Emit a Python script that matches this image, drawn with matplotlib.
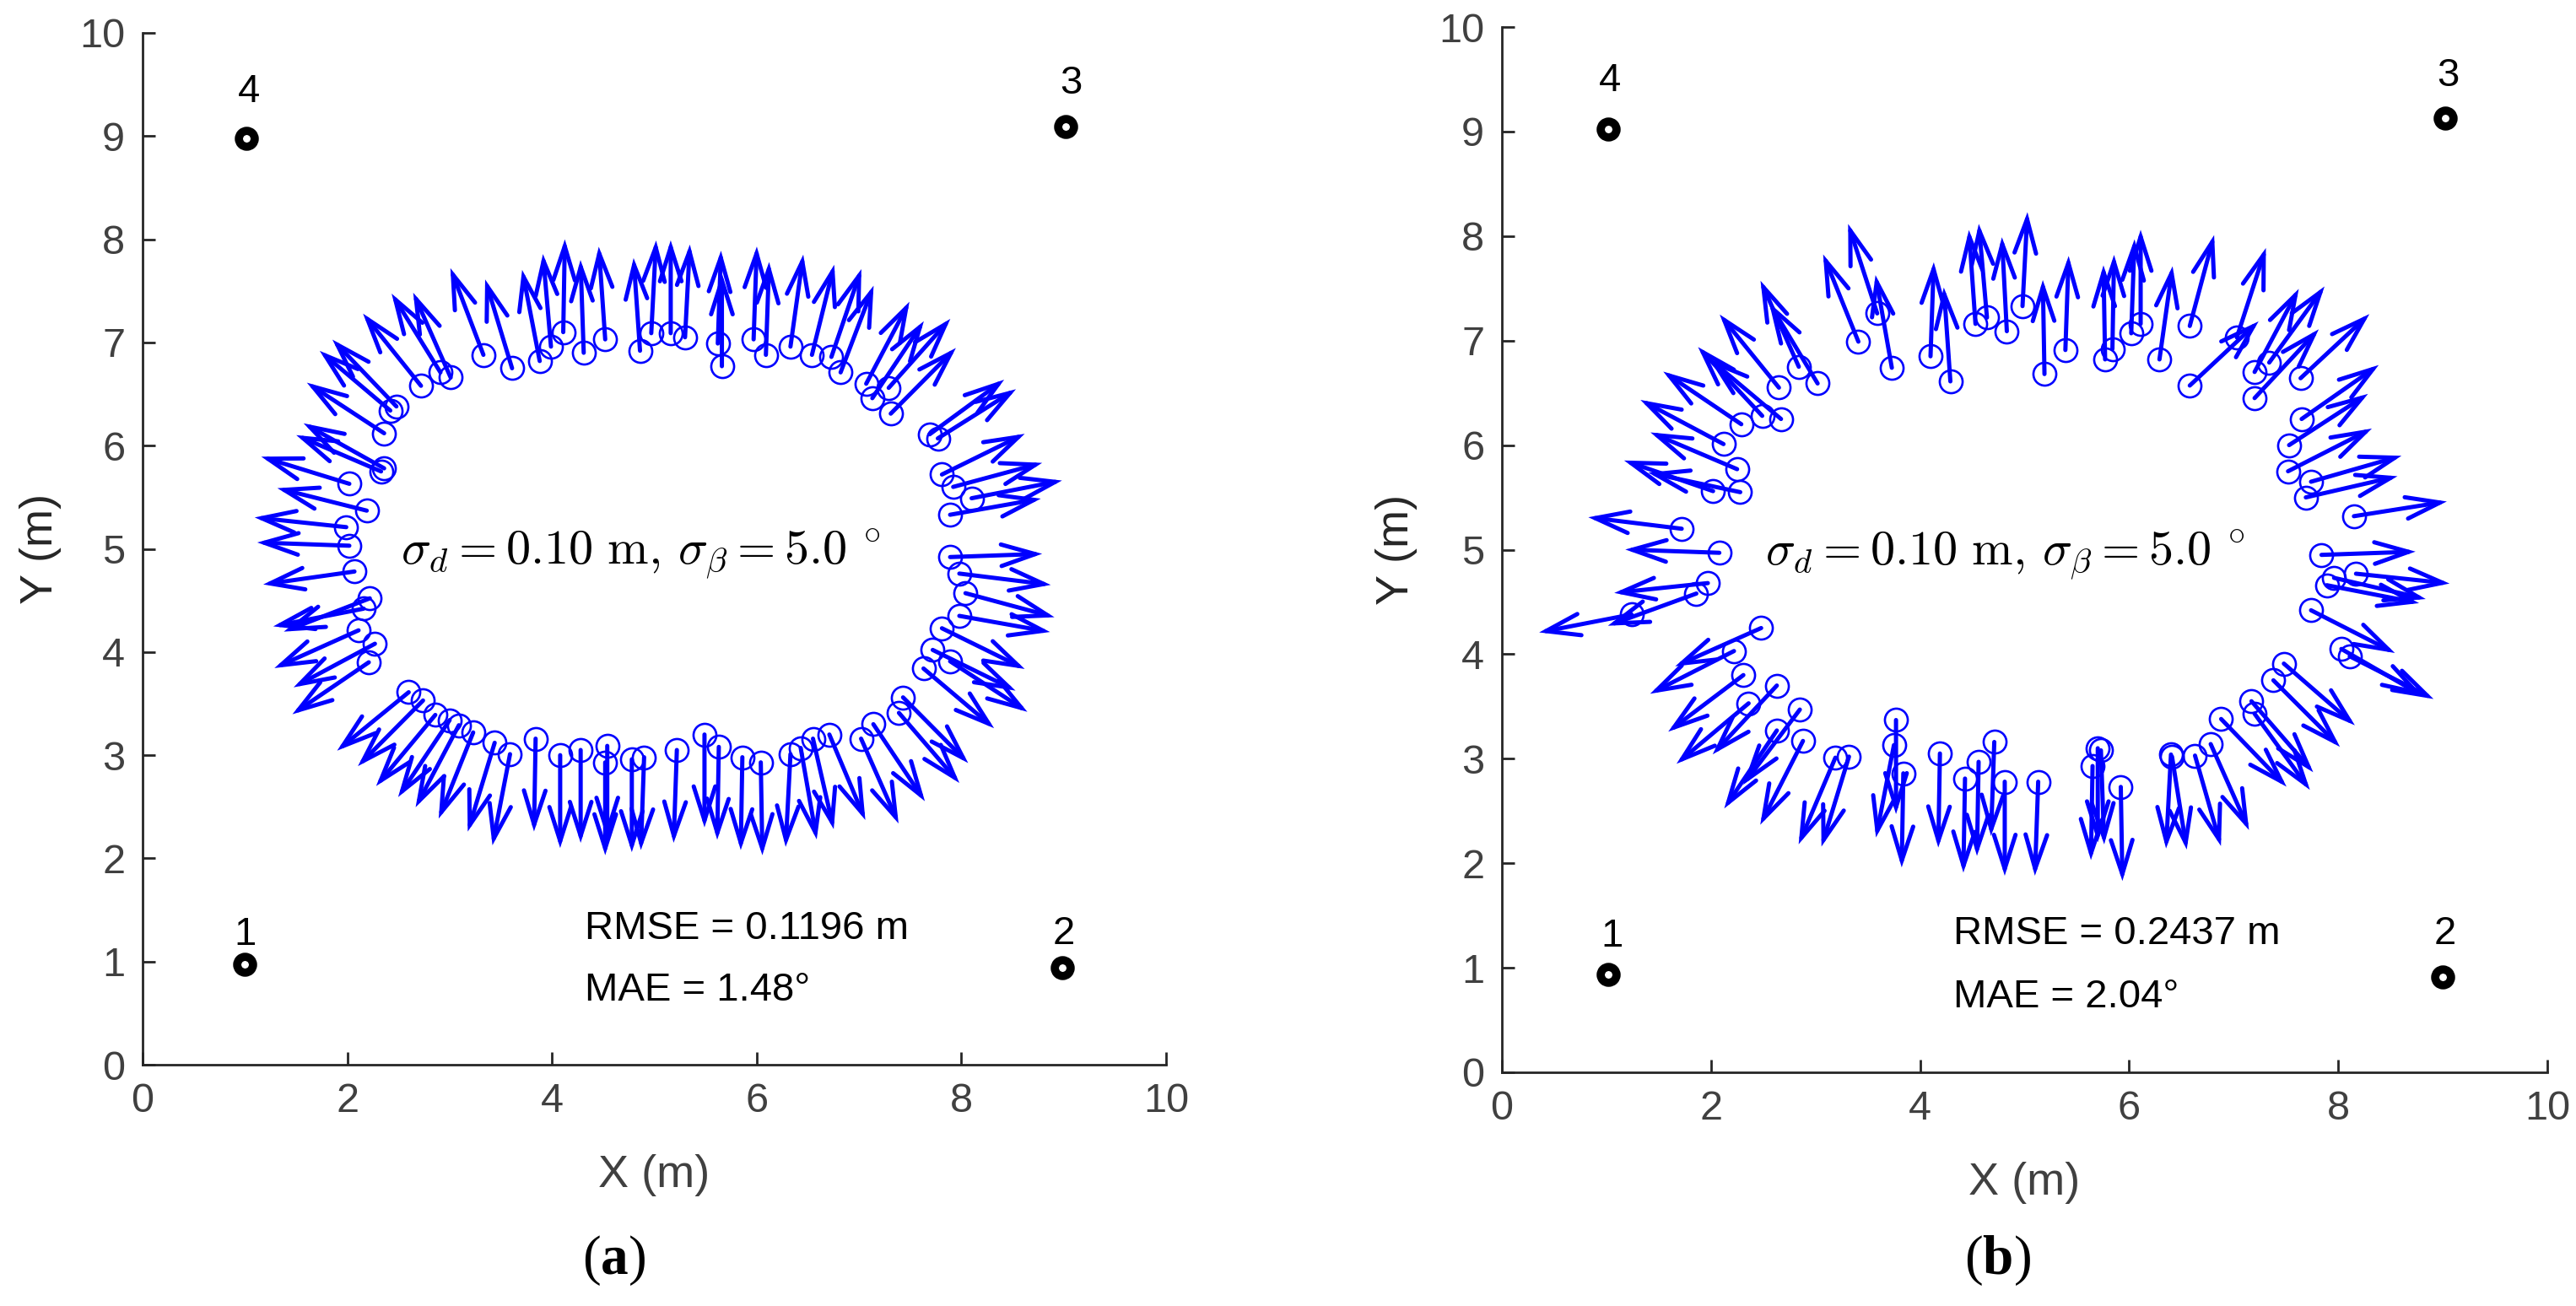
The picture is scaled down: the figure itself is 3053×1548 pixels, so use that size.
import numpy as np
import matplotlib
matplotlib.use("Agg")
import matplotlib.pyplot as plt

plt.rcParams['font.family'] = ['Liberation Sans', 'DejaVu Sans']
plt.rcParams['mathtext.fontset'] = 'cm'
plt.rcParams['mathtext.rm'] = 'Liberation Serif'
plt.rcParams['mathtext.bf'] = 'Liberation Serif:bold'

# ---------------- data: panel (a) ----------------
a_x = [3.33, 3.61, 3.88, 3.99, 4.11, 4.31, 4.52, 4.86, 4.97, 3.01, 2.91, 2.72, 2.48, 2.42,
       2.36, 2.36, 2.33, 2.02, 2.19, 1.99, 2.02, 2.07,
       5.16, 5.30, 5.62, 5.66, 5.97, 6.09, 6.33, 6.54, 6.73, 6.82, 7.07, 7.13, 7.29, 7.31,
       7.69, 7.77, 7.81, 7.92, 8.10, 7.89, 7.89, 7.98,
       2.22, 2.16, 2.11, 2.27, 2.21, 2.60, 2.74, 2.86, 3.00, 3.09, 3.23, 3.44, 3.59, 3.84,
       4.08, 4.28, 4.54, 4.52, 4.78, 4.90,
       5.22, 5.49, 5.63, 5.86, 6.04, 6.33, 6.43, 6.55, 6.71, 7.02, 7.14, 7.39, 7.43, 7.63,
       7.89, 7.72, 7.81, 7.98, 8.04]
a_y = [6.88, 6.75, 6.82, 6.96, 7.10, 6.90, 7.03, 6.92, 7.09, 6.66, 6.71, 6.58, 6.38, 6.34,
       6.12, 5.78, 5.75, 5.63, 5.37, 5.21, 5.03, 4.78,
       7.09, 7.05, 6.99, 6.77, 7.03, 6.88, 6.96, 6.88, 6.86, 6.71, 6.60, 6.46, 6.56, 6.31,
       6.11, 6.07, 5.72, 5.60, 5.49, 5.33, 4.92, 4.76,
       4.52, 4.42, 4.21, 4.08, 3.90, 3.61, 3.53, 3.39, 3.34, 3.29, 3.22, 3.12, 3.01, 3.16,
       3.00, 3.05, 3.09, 2.93, 2.96, 2.98,
       3.05, 3.20, 3.08, 2.98, 2.93, 3.01, 3.07, 3.16, 3.20, 3.16, 3.30, 3.41, 3.56, 3.84,
       3.91, 4.02, 4.23, 4.35, 4.57]
a_heading = [111, 107, 101, 95, 89, 92, 94, 94, 87, 114, 122, 129, 134, 140,
             147, 151, 157, 163, 166, 174, 178, 188,
             90, 87, 88, 90, 88, 88, 82, 76, 71, 69, 62, 56, 48, 45,
             36, 32, 26, 15, 11, 10, 2, -7,
             201, 191, 204, 208, 214, 219, 225, 230, 236, 242, 248, 253, 259, 269,
             270, 270, 270, 270, 270, 268,
             268, 270, 269, 269, 271, 267, 280, 283, 293, 294, 304, 311, 315, 320,
             327, 334, 334, 350, 345]

# ---------------- data: panel (b) ----------------
b_x = [3.41, 3.59, 3.73, 4.10, 4.29, 4.53, 4.64, 2.84, 3.02, 2.65, 2.49, 2.67, 2.29, 2.12,
       2.25, 2.02, 2.28, 1.72, 2.08,
       4.83, 4.98, 5.19, 5.39, 5.77, 5.84, 6.02, 6.11, 6.29, 6.58, 7.03, 6.58, 7.20, 7.34,
       7.20, 7.64, 7.65, 7.53, 7.52, 7.74, 7.69, 8.15, 7.84,
       1.97, 1.86, 1.24, 2.48, 2.22, 2.31, 2.36, 2.63, 2.85, 2.63, 2.88, 3.19, 3.32, 3.77,
       3.75, 3.84, 4.19, 4.43, 4.56,
       4.71, 4.81, 5.13, 5.70, 5.65, 5.73, 5.92, 6.40, 6.41, 6.63, 6.78, 6.88, 7.17, 7.20,
       7.38, 7.48, 8.03, 8.11, 7.74, 7.89, 7.96, 8.17]
b_y = [6.99, 7.26, 6.74, 6.85, 6.61, 7.16, 7.22, 6.75, 6.59, 6.55, 6.28, 6.25, 6.20, 6.01,
       5.77, 5.56, 5.55, 5.20, 4.97,
       7.09, 7.33, 6.68, 6.91, 6.82, 6.92, 7.07, 7.16, 6.82, 7.14, 7.03, 6.57, 6.70, 6.79,
       6.45, 6.64, 6.25, 6.00, 5.75, 5.65, 5.50, 5.32, 4.95,
       4.68, 4.58, 4.38, 4.25, 4.03, 3.80, 3.53, 3.70, 3.47, 3.27, 3.17, 3.01, 3.02, 3.37,
       3.13, 2.86, 3.05, 2.81, 2.97,
       3.16, 2.78, 2.78, 3.10, 2.93, 3.08, 2.73, 3.04, 3.02, 3.03, 3.14, 3.38, 3.55, 3.43,
       3.75, 3.91, 4.05, 3.98, 4.42, 4.66, 4.73, 4.77]
b_heading = [112, 108, 100, 88, 94, 94, 95, 114, 121, 129, 133, 140, 146, 152,
             157, 161, 168, 173, 178,
             93, 87, 91, 88, 91, 89, 88, 90, 82, 75, 72, 43, 62, 54,
             47, 43, 35, 33, 27, 16, 13, 9, 2,
             186, 200, 191, 204, 207, 217, 220, 227, 233, 236, 243, 247, 253, 270,
             259, 269, 269, 269, 269,
             268, 270, 268, 270, 269, 272, 271, 267, 279, 286, 294, 314, 311, 306,
             315, 319, 330, 333, 333, 349, 347, 354]

# landmarks and their number labels
lm_ids = ['1', '2', '3', '4']
a_lm_x = [1.00, 8.99, 9.02, 1.01]
a_lm_y = [0.97, 0.94, 9.09, 8.98]
a_lab_x = [1.00, 9.00, 9.07, 1.04]
a_lab_y = [1.26, 1.27, 9.51, 9.43]
b_lm_x = [1.02, 9.00, 9.02, 1.02]
b_lm_y = [0.94, 0.91, 9.13, 9.02]
b_lab_x = [1.05, 9.02, 9.05, 1.03]
b_lab_y = [1.30, 1.32, 9.53, 9.48]

a_rmse, a_mae = 0.1196, 1.48
b_rmse, b_mae = 0.2437, 2.04
sigma_text = r'$\sigma_d = 0.10\ \mathrm{m},\, \sigma_\beta = 5.0\ ^{\circ}$'
panel_tags = ['a', 'b']

x_ticks = [0, 2, 4, 6, 8, 10]
y_ticks = list(range(0, 11))
arrow_len = 0.9

W, H = 3053, 1548
fig = plt.figure(figsize=(W / 100, H / 100), dpi=100)

axes_px = [(169, 1262, 1213, 1223), (1780, 1271, 1239, 1239)]   # left, bottom(from top), w, h
ylabel_off = [96, 100]
data = [
    (a_x, a_y, a_heading, a_lm_x, a_lm_y, a_lab_x, a_lab_y, a_rmse, a_mae),
    (b_x, b_y, b_heading, b_lm_x, b_lm_y, b_lab_x, b_lab_y, b_rmse, b_mae),
]
SPINE = (0.15, 0.15, 0.15)
TICKC = (0.25, 0.25, 0.25)

for (l, b, w, h), yoff, (px, py, ph, lx, ly, tlx, tly, rmse, mae) in zip(axes_px, ylabel_off, data):
    ax = fig.add_axes([l / W, 1 - b / H, w / W, h / H])
    px = np.asarray(px); py = np.asarray(py); th = np.deg2rad(ph)
    tx = px + arrow_len * np.cos(th)
    ty = py + arrow_len * np.sin(th)
    for x0, y0, x1, y1 in zip(px, py, tx, ty):
        ax.annotate('', xy=(x1, y1), xytext=(x0, y0),
                    arrowprops=dict(arrowstyle='->,head_length=1.45,head_width=0.46',
                                    color='blue', lw=3.6, shrinkA=0, shrinkB=0,
                                    mutation_scale=20, joinstyle='miter'),
                    annotation_clip=False)
    ax.plot(px, py, 'o', ms=19.5, mfc='none', mec='blue', mew=1.9, zorder=3)
    ax.plot(lx, ly, 'o', ms=13.5, mfc='none', mec='black', mew=7, zorder=4)
    for lab, xx, yy in zip(lm_ids, tlx, tly):
        ax.text(xx, yy, lab, fontsize=34, ha='center', va='center', color='black')
    ax.text(2.52, 4.86, sigma_text, fontsize=42, ha='left', va='baseline', color='black')
    ax.text(4.32, 1.32, f'RMSE = {rmse:.4f} m', fontsize=34, ha='left', va='center', color='black')
    ax.text(4.32, 0.72, f'MAE = {mae:.2f}\u00b0', fontsize=34, ha='left', va='center', color='black')

    ax.set_xlim(0, 10)
    ax.set_ylim(0, 10)
    ax.set_xticks(x_ticks)
    ax.set_yticks(y_ticks)
    for s in ['top', 'right']:
        ax.spines[s].set_visible(False)
    for s in ['left', 'bottom']:
        ax.spines[s].set_linewidth(2.0)
        ax.spines[s].set_color(SPINE)
    ax.tick_params(direction='in', length=11, width=2.0, color=SPINE, labelcolor=TICKC,
                   labelsize=35, pad=15)
    ax.set_xlabel('X (m)', fontsize=39, color=TICKC)
    ax.set_ylabel('Y (m)', fontsize=39, color=SPINE)
    ax.xaxis.set_label_coords(0.5, -106 / h)
    ax.yaxis.set_label_coords(-yoff / w, 0.5)

for fx, tag in zip([728 / W, 2367 / W], panel_tags):
    fig.text(fx, 1 - 1494 / H, r'($\mathbf{' + tag + '}$)', fontsize=47,
             ha='center', va='center', family='Liberation Serif', math_fontfamily='custom')

fig.savefig('out.png', dpi=100)
